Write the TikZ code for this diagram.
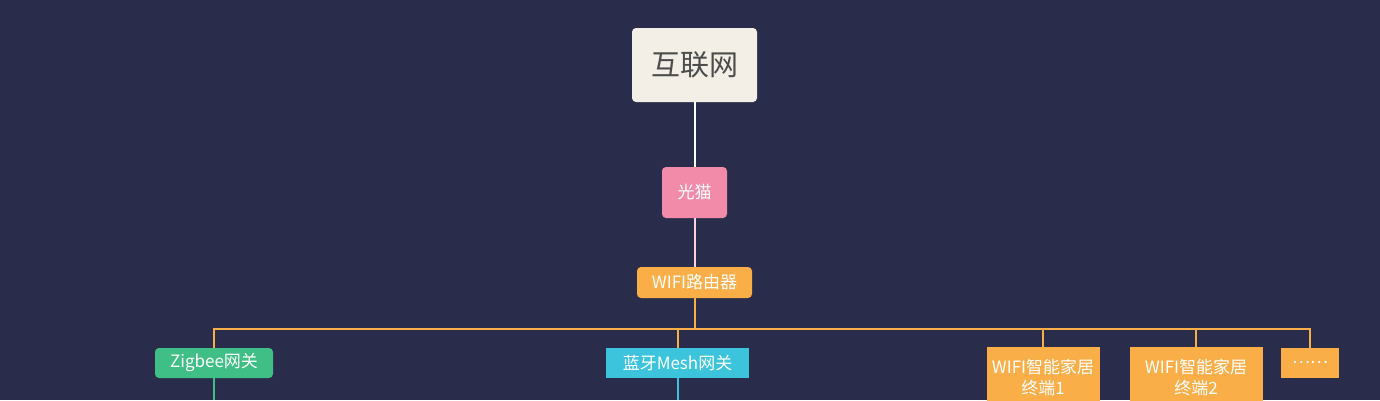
\documentclass[tikz,border=0pt]{standalone}
\usepackage{fontspec}
\setmainfont{Noto Sans CJK SC}
\definecolor{bg}{HTML}{2A2C4B}
\definecolor{cream}{HTML}{F3EFE6}
\definecolor{pinkc}{HTML}{F28BAA}
\definecolor{orangec}{HTML}{F9AE47}
\definecolor{greenc}{HTML}{3FBF85}
\definecolor{cyanc}{HTML}{3BC4DB}
\begin{document}
\begin{tikzpicture}[x=1pt,y=-1pt,
  box/.style={inner sep=0pt,text=white,font=\fontsize{17}{21}\selectfont,align=center},
  ln/.style={line width=2pt}]
\fill[bg] (0,0) rectangle (1380,400);
\useasboundingbox (0,0) rectangle (1380,400);
\node[box,fill=cream,text=black!70,rounded corners=4pt,minimum width=125pt,minimum height=74pt,font=\fontsize{29}{34}\selectfont] (inet) at (694.5,65) {互联网};
\node[box,fill=pinkc,rounded corners=4pt,minimum width=65pt,minimum height=51pt] (modem) at (694.5,192.5) {光猫};
\node[box,fill=orangec,rounded corners=4pt,minimum width=115pt,minimum height=31pt] (router) at (694.5,282.5) {WIFI路由器};
\node[box,fill=greenc,rounded corners=4pt,minimum width=118pt,minimum height=30pt] (zig) at (214,363) {Zigbee网关};
\node[box,fill=cyanc,minimum width=143pt,minimum height=30pt] (ble) at (677.5,363) {蓝牙Mesh网关};
\node[box,fill=orangec,minimum width=113pt,minimum height=60pt,anchor=north] (t1) at (1043,347) {WIFI智能家居\\终端1};
\node[box,fill=orangec,minimum width=133pt,minimum height=60pt,anchor=north] (t2) at (1196,347) {WIFI智能家居\\终端2};
\node[box,fill=orangec,minimum width=58pt,minimum height=30pt] (dots) at (1310,363) {……};
\draw[ln,white] (inet) -- (modem);
\draw[ln,pinkc!40!white] (modem) -- (router);
\coordinate (bar) at (694.5,329);
\draw[ln,orangec] (router) -- (bar);
\draw[ln,orangec] (zig.north) -- (zig.north |- bar) -- (dots.north |- bar) -- (dots.north);
\draw[ln,orangec] (ble.north) -- (ble.north |- bar);
\draw[ln,orangec] (t1.north) -- (t1.north |- bar);
\draw[ln,orangec] (t2.north) -- (t2.north |- bar);
\coordinate (zb) at (214,400);
\coordinate (bb) at (677.5,400);
\draw[ln,greenc] (zig) -- (zb);
\draw[ln,cyanc] (ble) -- (bb);
\end{tikzpicture}
\end{document}
